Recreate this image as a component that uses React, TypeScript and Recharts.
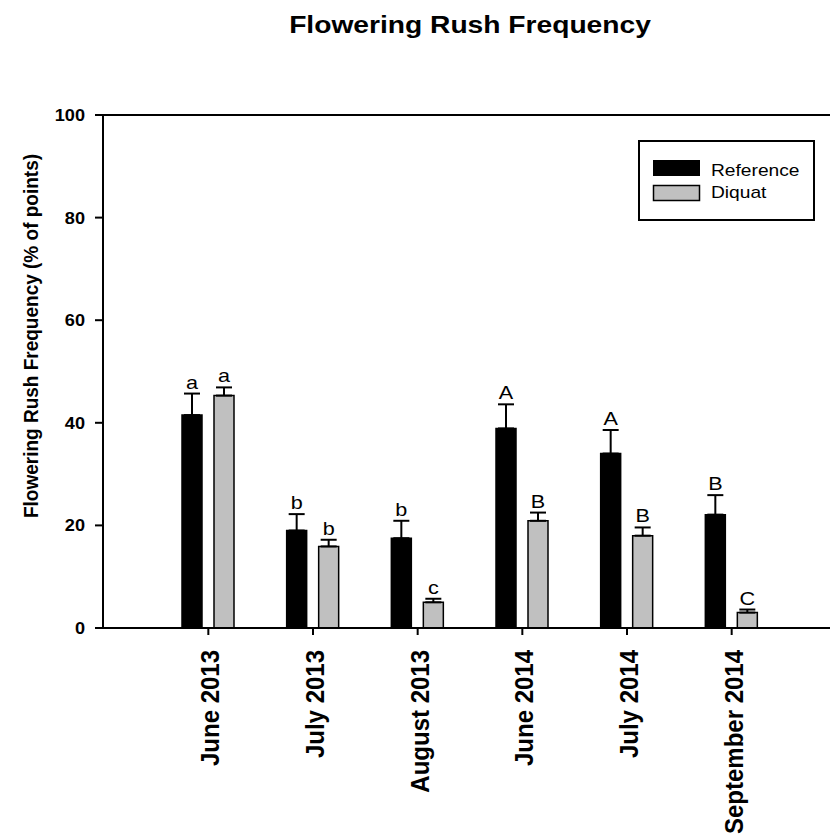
import { Bar, BarChart, ErrorBar, LabelList, Legend, ReferenceLine, XAxis, YAxis } from 'recharts';

const MONTHS = ['June 2013', 'July 2013', 'August 2013', 'June 2014', 'July 2014', 'September 2014'];
const REFERENCE = [41.5, 19.0, 17.5, 38.9, 34.0, 22.1];
const REFERENCE_SE = [4.2, 3.2, 3.4, 4.7, 4.6, 3.8];
const DIQUAT = [45.3, 15.9, 5.0, 20.9, 18.0, 3.0];
const DIQUAT_SE = [1.6, 1.3, 0.7, 1.6, 1.6, 0.6];
const REFERENCE_LETTERS = ['a', 'b', 'b', 'A', 'A', 'B'];
const DIQUAT_LETTERS = ['a', 'b', 'c', 'B', 'B', 'C'];
const Y_TICKS = [0, 20, 40, 60, 80, 100];

const FONT = '"Liberation Sans", Arial, sans-serif';
const GREY = '#c0c0c0';
// the source picture is a little wider than tall, so horizontal text is widened a bit
const STRETCH = 1.2;

const data = MONTHS.map((month, i) => ({
  month,
  reference: REFERENCE[i],
  referenceErr: [0, REFERENCE_SE[i]],
  diquat: DIQUAT[i],
  diquatErr: [0, DIQUAT_SE[i]],
}));

function XTick({ x, y, payload }: any) {
  return (
    <text
      transform={`translate(${x + 11},${y + 15}) scale(1.05,1) rotate(-90)`}
      textAnchor="end"
      fontFamily={FONT}
      fontWeight="bold"
      fontSize={24}
      fill="#000"
    >
      {payload.value}
    </text>
  );
}

function YTick({ x, y, payload }: any) {
  return (
    <text
      transform={`translate(${x - 10},${y + 6}) scale(1.1,1)`}
      textAnchor="end"
      fontFamily={FONT}
      fontWeight="bold"
      fontSize={16.5}
      fill="#000"
    >
      {payload.value}
    </text>
  );
}

function YLabel() {
  return (
    <text
      transform={`translate(38,336) scale(1.1,1) rotate(-90)`}
      textAnchor="middle"
      fontFamily={FONT}
      fontWeight="bold"
      fontSize={19}
      fill="#000"
    >
      Flowering Rush Frequency (% of points)
    </text>
  );
}

// letters sit just above the error cap; the cap height comes from the bar's own scale
function letterLabel(values: number[], errs: number[], letters: string[]) {
  return (props: any) => {
    const { x, y, width, height, index } = props;
    const perUnit = height / values[index];
    const capY = y - errs[index] * perUnit;
    return (
      <text
        transform={`translate(${x + width / 2},${capY - 5}) scale(${STRETCH},1)`}
        textAnchor="middle"
        fontFamily={FONT}
        fontSize={18}
        fill="#000"
      >
        {letters[index]}
      </text>
    );
  };
}

function LegendBox() {
  return (
    <svg width={178} height={82} style={{ display: 'block' }}>
      <rect x={1} y={1} width={175} height={79} fill="#fff" stroke="#000" strokeWidth={2} />
      <rect x={15} y={20} width={47} height={16} fill="#000" />
      <rect x={15.5} y={45.5} width={46} height={15} fill={GREY} stroke="#000" strokeWidth={1.5} />
      <text transform={`translate(73,36) scale(${STRETCH},1)`} fontFamily={FONT} fontSize={16} fill="#000">
        Reference
      </text>
      <text transform={`translate(73,58) scale(${STRETCH},1)`} fontFamily={FONT} fontSize={16} fill="#000">
        Diquat
      </text>
    </svg>
  );
}

export default function App() {
  return (
    <div style={{ position: 'absolute', left: 0, top: 0, width: 830, height: 835, background: '#fff', overflow: 'hidden' }}>
      <svg width={830} height={60} style={{ position: 'absolute', left: 0, top: 0 }}>
        <text
          transform={`translate(470,33) scale(${STRETCH},1)`}
          textAnchor="middle"
          fontFamily={FONT}
          fontWeight="bold"
          fontSize={23.5}
          fill="#000"
        >
          Flowering Rush Frequency
        </text>
      </svg>
      <BarChart
        width={830}
        height={835}
        data={data}
        margin={{ top: 115, right: 0, bottom: 0, left: 0 }}
        barSize={20}
        barGap={12}
        style={{ position: 'absolute', left: 0, top: 0 }}
      >
        <XAxis
          dataKey="month"
          height={207}
          padding={{ left: 53, right: 46 }}
          axisLine={{ stroke: '#000', strokeWidth: 2 }}
          tickLine={{ stroke: '#000', strokeWidth: 2 }}
          tickSize={7}
          tickMargin={0}
          tick={<XTick />}
          interval={0}
        />
        <YAxis
          width={103}
          domain={[0, 100]}
          ticks={Y_TICKS}
          axisLine={{ stroke: '#000', strokeWidth: 2 }}
          tickLine={{ stroke: '#000', strokeWidth: 2 }}
          tickSize={8}
          tickMargin={0}
          tick={<YTick />}
          label={{ content: YLabel }}
        />
        <ReferenceLine y={100} stroke="#000" strokeWidth={2} />
        <Legend
          layout="horizontal"
          verticalAlign="middle"
          align="center"
          content={() => <LegendBox />}
          wrapperStyle={{ left: 638, top: 140, width: 178, height: 82 }}
        />
        <Bar dataKey="reference" name="Reference" fill="#000" stroke="#000" strokeWidth={1.5} isAnimationActive={false}>
          <ErrorBar dataKey="referenceErr" width={8} stroke="#000" strokeWidth={2} />
          <LabelList content={letterLabel(REFERENCE, REFERENCE_SE, REFERENCE_LETTERS)} />
        </Bar>
        <Bar dataKey="diquat" name="Diquat" fill={GREY} stroke="#000" strokeWidth={1.5} isAnimationActive={false}>
          <ErrorBar dataKey="diquatErr" width={8} stroke="#000" strokeWidth={2} />
          <LabelList content={letterLabel(DIQUAT, DIQUAT_SE, DIQUAT_LETTERS)} />
        </Bar>
      </BarChart>
    </div>
  );
}
